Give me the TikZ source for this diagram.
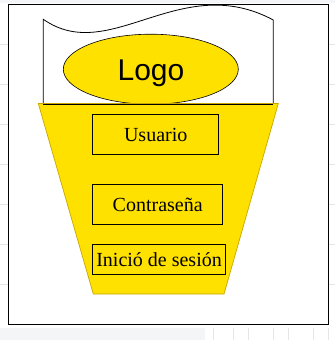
\documentclass[tikz,border=0pt]{standalone}
\usepackage{fontspec}
\usetikzlibrary{shapes.geometric}
\setmainfont{Liberation Serif}
\newfontfamily\logofont{Liberation Sans}
\definecolor{funnel}{RGB}{255,225,0}
\definecolor{funnelrim}{RGB}{200,168,0}
\definecolor{sheetgrid}{RGB}{230,230,230}
\definecolor{sheetband}{RGB}{244,245,247}
\begin{document}
\begin{tikzpicture}[x=1pt,y=-1pt,
  field/.style={draw=black,line width=0.8pt,fill=funnel,anchor=north west,
    inner sep=0pt,font=\fontsize{20}{20}\selectfont},
  outline/.style={draw=black,line width=0.8pt}]
  \useasboundingbox (0,0) rectangle (335,340);
  % spreadsheet background
  \fill[white] (0,0) rectangle (335,340);
  \fill[sheetband] (0,0) rectangle (335,3);
  \fill[sheetband] (0,328) rectangle (205,340);
  \foreach \y in {44,84,124,164,204,244,284} {
    \draw[sheetgrid,line width=0.6pt] (0,\y) -- (8,\y);
    \draw[sheetgrid,line width=0.6pt] (328,\y) -- (335,\y);
  }
  \foreach \x in {213,233,248,273,288,313,328} {
    \draw[sheetgrid,line width=0.6pt] (\x,328) -- (\x,340);
  }
  % frame
  \draw[outline] (8.3,4.3) rectangle (328.3,324.3);
  % wavy header
  \draw[outline,fill=white] (43.3,104.3) -- (43.3,19.3)
    .. controls (110,66) and (180,-30) .. (273.3,20) -- (273.3,104.3) -- cycle;
  % logo
  \node[draw=black,line width=0.6pt,fill=funnel,ellipse,minimum width=175pt,
    minimum height=70pt,inner sep=0pt] (logo) at (150.8,69.2) {};
  \node[inner sep=0pt,font=\logofont\fontsize{30}{30}\selectfont,anchor=base]
    (logotext) at (151,80) {Logo};
  % funnel
  \draw[funnelrim,line width=0.7pt,fill=funnel] (38.3,103.5) -- (278.3,103.5)
    -- (224,294) -- (93.3,294) -- cycle;
  \draw[black,line width=0.8pt] (43.3,104.3) -- (273.3,104.3);
  % login fields
  \node[field,minimum width=126pt,minimum height=39.7pt] (user) at (92.3,114.3) {Usuario};
  \node[field,minimum width=130pt,minimum height=39.7pt] (pass) at (92.3,184.3) {Contraseña};
  \node[field,minimum width=132.7pt,minimum height=30pt] (login) at (92.3,244.3) {Inició de sesión};
\end{tikzpicture}
\end{document}
